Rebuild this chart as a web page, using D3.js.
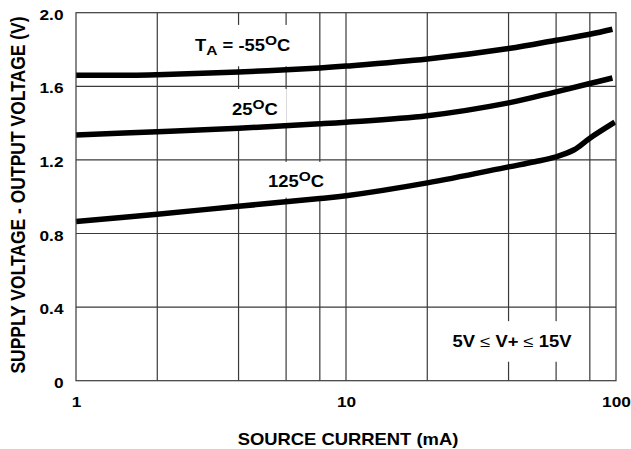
<!DOCTYPE html>
<html>
<head>
<meta charset="utf-8">
<script src="https://cdn.jsdelivr.net/npm/d3@7"></script>
<style>
    body { margin: 0; background: #fff; }
    text { font-family: "Liberation Sans", Arial, sans-serif; font-weight: bold; fill: #000; }
</style>
</head>
<body>
<svg id="chart" width="631" height="449"></svg>
<script>
// axis ticks and grid
const currentTicks = [1, 10, 100];
const voltTicks = [0, 0.4, 0.8, 1.2, 1.6, 2.0];
const gridCurrents = [2, 4, 6, 8, 10, 20, 40, 60, 80];
const gridVolts = [0.4, 0.8, 1.2, 1.6];

// curves (mA, V)
const currentM55 = [1, 1.6, 2, 4, 8, 10, 20, 40, 60, 80, 97];
const voltM55 = [1.66, 1.66, 1.663, 1.678, 1.70, 1.71, 1.748, 1.805, 1.85, 1.883, 1.91];
const current25 = [1, 2, 4, 8, 10, 20, 40, 60, 80, 97];
const volt25 = [1.335, 1.353, 1.372, 1.396, 1.405, 1.44, 1.51, 1.57, 1.615, 1.645];
const current125 = [1, 2, 4, 8, 10, 20, 40, 50, 60, 70, 80, 99];
const volt125 = [0.865, 0.905, 0.948, 0.99, 1.005, 1.075, 1.162, 1.19, 1.217, 1.255, 1.318, 1.405];

const series = [
    {name: '-55', current: currentM55, volt: voltM55},
    {name: '25', current: current25, volt: volt25},
    {name: '125', current: current125, volt: volt125}
];

const SX = 1.15; // the original lettering is drawn a bit wide

const svg = d3.select('#chart');
const x = d3.scaleLog().domain([1, 100]).range([76, 616]);
const y = d3.scaleLinear().domain([0, 2]).range([380.7, 12.7]);

function stretch(sel) {
    sel.attr('transform', function() {
        const x0 = +this.getAttribute('x') || 0;
        return `translate(${x0},0) scale(${SX},1) translate(${-x0},0)`;
    });
}

// grid
const grid = svg.append('g').attr('stroke', '#3a3a3a').attr('stroke-width', 1.2).attr('fill', 'none');
grid.selectAll('line.v').data(gridCurrents).join('line')
    .attr('x1', d => x(d)).attr('x2', d => x(d))
    .attr('y1', y(0)).attr('y2', y(2));
grid.selectAll('line.h').data(gridVolts).join('line')
    .attr('y1', d => y(d)).attr('y2', d => y(d))
    .attr('x1', x(1)).attr('x2', x(100));

// label boxes and curves go in their own layers
const boxes = svg.append('g');
const curves = svg.append('g');
const labels = svg.append('g');

svg.append('rect')
    .attr('x', x(1)).attr('y', y(2))
    .attr('width', x(100) - x(1)).attr('height', y(0) - y(2))
    .attr('fill', 'none').attr('stroke', '#3a3a3a').attr('stroke-width', 1.2);

const line = d3.line()
    .x(d => x(d[0]))
    .y(d => y(d[1]))
    .curve(d3.curveCatmullRom.alpha(0.5));

curves.selectAll('path').data(series).join('path')
    .attr('d', s => line(s.current.map((c, i) => [c, s.volt[i]])))
    .attr('fill', 'none')
    .attr('stroke', '#000')
    .attr('stroke-width', 5.5);

// axes (labels only)
const xAxis = svg.append('g')
    .attr('transform', `translate(0,${y(0)})`)
    .call(d3.axisBottom(x).tickValues(currentTicks).tickFormat(d3.format('d')).tickSize(0));
xAxis.select('.domain').remove();
xAxis.selectAll('text')
    .attr('y', 26.5).attr('dy', null)
    .style('font-size', '15px')
    .call(stretch);

const yAxis = svg.append('g')
    .attr('transform', `translate(${x(1)},0)`)
    .call(d3.axisLeft(y).tickValues(voltTicks).tickFormat(d => d === 0 ? '0' : d.toFixed(1)).tickSize(0));
yAxis.select('.domain').remove();
yAxis.selectAll('text')
    .attr('x', -12.5).attr('dy', 6.5)
    .style('font-size', '15px')
    .call(stretch);

// axis titles
svg.append('text')
    .attr('x', 348).attr('y', 445)
    .attr('text-anchor', 'middle')
    .style('font-size', '16px')
    .text('SOURCE CURRENT (mA)')
    .call(stretch);

svg.append('text')
    .attr('transform', `translate(24.5,195) scale(${SX},1) rotate(-90)`)
    .attr('text-anchor', 'middle')
    .style('font-size', '17.5px')
    .text('SUPPLY VOLTAGE - OUTPUT VOLTAGE (V)');

// curve labels
function addLabel(xv, yv, parts, anchor, padX, padY) {
    const x0 = x(xv);
    const t = labels.append('text')
        .attr('x', x0).attr('y', y(yv))
        .attr('text-anchor', anchor)
        .style('font-size', '16px');
    let shift = 0;
    parts.forEach(([s, kind]) => {
        const target = kind === 'sub' ? 4.5 : kind === 'sup' ? -6 : 0;
        const ts = t.append('tspan').attr('dy', target - shift).text(s);
        if (kind === 'sub' || kind === 'sup') ts.style('font-size', '13.5px');
        if (kind === 'sym') ts.style('font-weight', 'normal');
        shift = target;
    });
    t.call(stretch);
    const bb = t.node().getBBox();
    boxes.append('rect')
        .attr('x', x0 + (bb.x - x0) * SX - padX)
        .attr('y', bb.y - padY)
        .attr('width', bb.width * SX + 2 * padX)
        .attr('height', bb.height + 2 * padY)
        .attr('fill', '#fff');
}

addLabel(2.76, 1.792, [['T'], ['A', 'sub'], [' = -55'], ['O', 'sup'], ['C']], 'start', 9, 8);
addLabel(3.78, 1.444, [['25'], ['O', 'sup'], ['C']], 'start', 9, 8);
addLabel(5.14, 1.053, [['125'], ['O', 'sup'], ['C']], 'start', 8, 7);
addLabel(41.2, 0.183, [['5V '], ['≤', 'sym'], [' V+ '], ['≤', 'sym'], [' 15V']], 'middle', 8, 11);
</script>
</body>
</html>
